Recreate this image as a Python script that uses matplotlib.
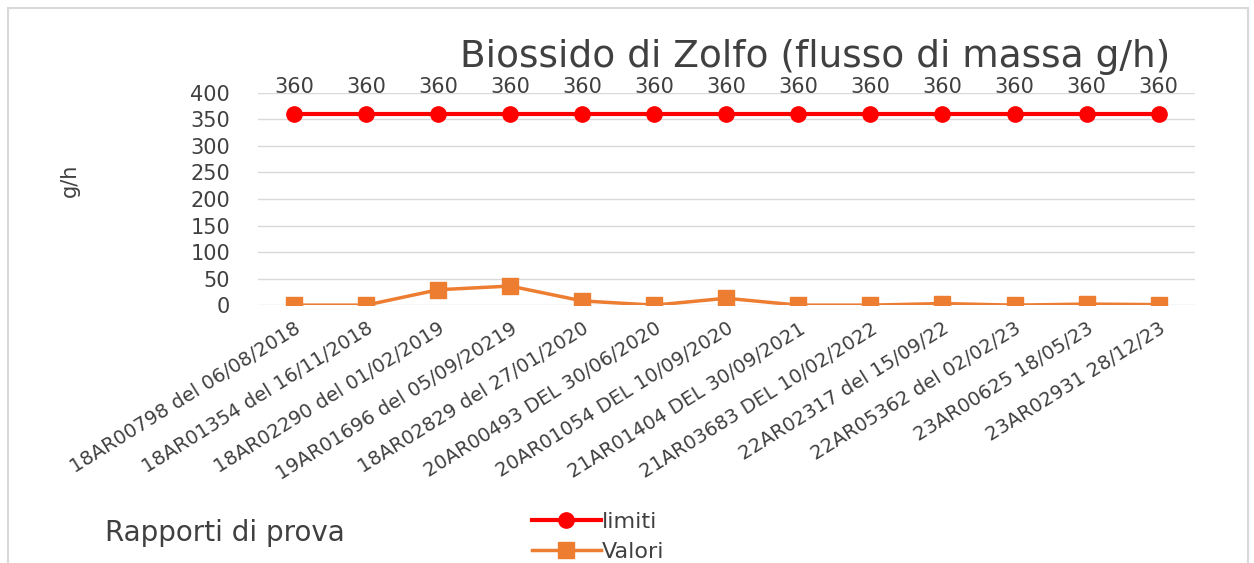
import matplotlib.pyplot as plt
from matplotlib.patches import Rectangle

rapporti = ['18AR00798 del 06/08/2018', '18AR01354 del 16/11/2018',
            '18AR02290 del 01/02/2019', '19AR01696 del 05/09/20219',
            '18AR02829 del 27/01/2020', '20AR00493 DEL 30/06/2020',
            '20AR01054 DEL 10/09/2020', '21AR01404 DEL 30/09/2021',
            '21AR03683 DEL 10/02/2022', '22AR02317 del 15/09/22',
            '22AR05362 del 02/02/23', '23AR00625 18/05/23',
            '23AR02931 28/12/23']
limiti = [360] * 13
valori = [0, 0, 29, 36, 8, 0, 13, 0, 0, 3, 0, 2, 1]
y_ticks = [0, 50, 100, 150, 200, 250, 300, 350, 400]

plt.rcParams['font.family'] = ['DejaVu Sans']
grey = '#404040'

fig = plt.figure(figsize=(12.54, 5.63), dpi=100)
ax = fig.add_axes([0.2057, 0.458, 0.747, 0.377])

x = list(range(len(rapporti)))
l1, = ax.plot(x, limiti, color='#FF0000', lw=3, marker='o', ms=11, label='limiti')
l2, = ax.plot(x, valori, color='#ED7D31', lw=2.5, marker='s', ms=11, label='Valori')

# etichette dati sopra il grafico
for xi, v in zip(x, limiti):
    ax.annotate(str(v), (xi, 400), xytext=(0, -3), textcoords='offset points',
                ha='center', va='bottom', fontsize=15, color=grey)

ax.set_xlim(-0.5, len(rapporti) - 0.5)
ax.set_ylim(0, 400)
ax.set_yticks(y_ticks)
ax.set_yticklabels([str(t) for t in y_ticks], fontsize=15, color=grey)
ax.set_xticks(x)
ax.set_xticklabels(rapporti, rotation=32, ha='right', rotation_mode='anchor',
                   fontsize=14, color=grey)
ax.tick_params(axis='y', length=0, pad=20)
ax.tick_params(axis='x', length=0, pad=10)
ax.grid(axis='y', color='#D9D9D9', lw=1)
ax.set_axisbelow(True)
for s in ax.spines.values():
    s.set_visible(False)

fig.text(0.65, 0.899, 'Biossido di Zolfo (flusso di massa g/h)', ha='center',
         va='center', fontsize=27, color=grey)
fig.text(0.056, 0.68, 'g/h', rotation=90, ha='center', va='center',
         fontsize=15, color=grey)
fig.text(0.084, 0.053, 'Rapporti di prova', ha='left', va='center',
         fontsize=20, color=grey)
fig.legend(handles=[l1, l2], loc='center', bbox_to_anchor=(0.477, 0.046),
           ncol=1, frameon=False, fontsize=16, handlelength=3.1,
           handletextpad=0.05, labelspacing=0.45, labelcolor=grey,
           borderpad=0.1)

fig.add_artist(Rectangle((0.006, -0.01), 0.989, 0.995, transform=fig.transFigure,
                         fill=False, edgecolor='#D9D9D9', lw=1.5))

fig.savefig('out.png', dpi=100)
